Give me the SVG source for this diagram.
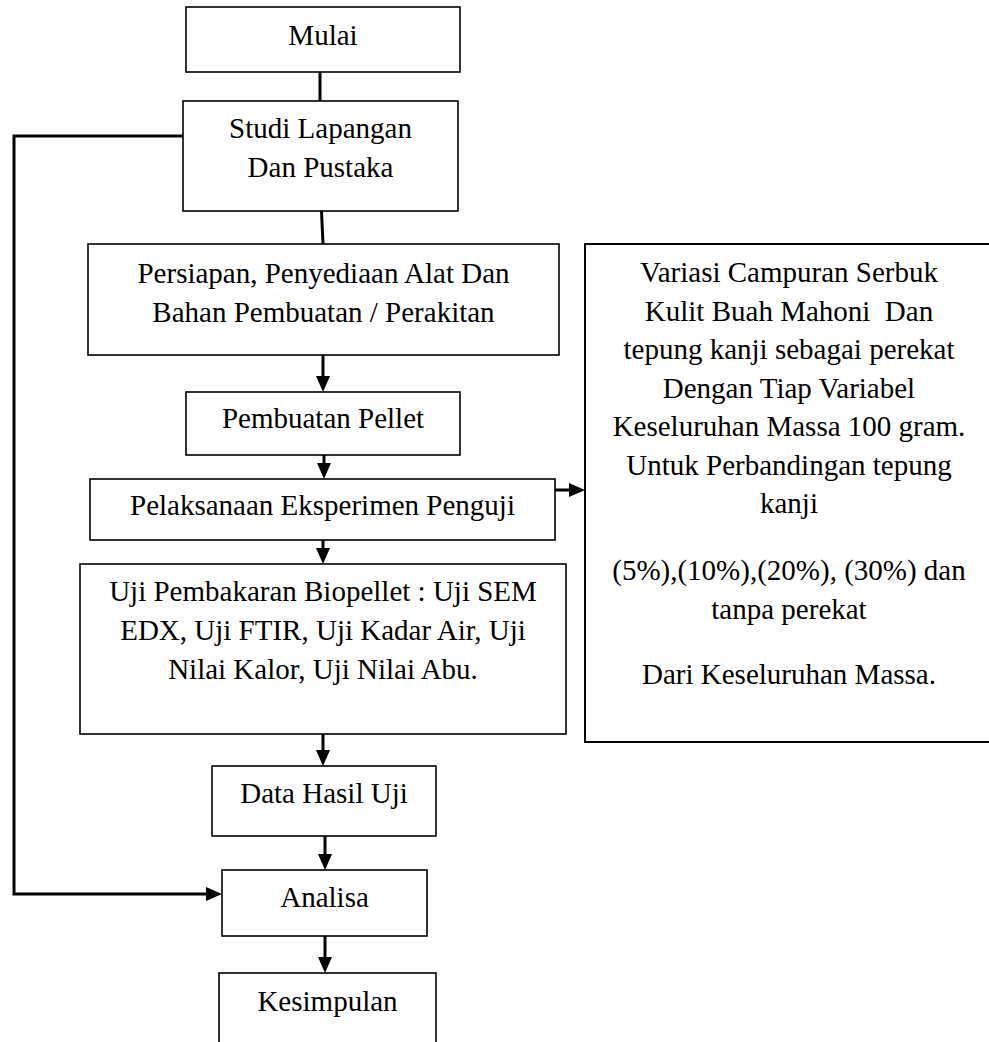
<svg xmlns="http://www.w3.org/2000/svg" width="989" height="1042" viewBox="0 0 989 1042">
<style>
  .box { fill: #ffffff; stroke: #000000; stroke-width: 1.6; }
  .t { font-family: "Liberation Serif", "Times New Roman", serif; font-size: 29px; fill: #000000; text-anchor: middle; }
  .c { fill: none; stroke: #000000; stroke-width: 3; }
</style>
<defs>
  <marker id="ah" viewBox="0 0 16 14" refX="0" refY="7" markerWidth="16" markerHeight="14" markerUnits="userSpaceOnUse" orient="auto">
    <path d="M0,0 L16,7 L0,14 Z" fill="#000000"/>
  </marker>
</defs>
<rect x="0" y="0" width="989" height="1042" fill="#ffffff"/>

<g id="connectors">
  <line class="c" x1="320" y1="72" x2="320" y2="101"/>
  <line class="c" x1="321.5" y1="211" x2="323" y2="244"/>
  <line class="c" x1="323" y1="355" x2="323" y2="376" marker-end="url(#ah)"/>
  <line class="c" x1="324" y1="455" x2="324" y2="463" marker-end="url(#ah)"/>
  <line class="c" x1="555" y1="490" x2="569" y2="490" marker-end="url(#ah)"/>
  <line class="c" x1="323" y1="540" x2="323" y2="548" marker-end="url(#ah)"/>
  <line class="c" x1="323" y1="734" x2="323" y2="750" marker-end="url(#ah)"/>
  <line class="c" x1="325" y1="836" x2="325" y2="854" marker-end="url(#ah)"/>
  <line class="c" x1="325" y1="936" x2="325" y2="957" marker-end="url(#ah)"/>
  <polyline class="c" points="183,136 14,136 14,894 206,894" marker-end="url(#ah)"/>
</g>

<g id="node-mulai">
  <rect class="box" x="186" y="7" width="274" height="65"/>
  <text class="t" x="323" y="45">Mulai</text>
</g>
<g id="node-studi">
  <rect class="box" x="183" y="101" width="275" height="110"/>
  <text class="t" x="320.5" y="138">Studi Lapangan</text>
  <text class="t" x="320.5" y="177">Dan Pustaka</text>
</g>
<g id="node-persiapan">
  <rect class="box" x="88" y="244" width="471" height="111"/>
  <text class="t" x="323.5" y="283">Persiapan, Penyediaan Alat Dan</text>
  <text class="t" x="323.5" y="322">Bahan Pembuatan / Perakitan</text>
</g>
<g id="node-pellet">
  <rect class="box" x="186" y="392" width="274" height="63"/>
  <text class="t" x="323" y="428">Pembuatan Pellet</text>
</g>
<g id="node-pelaksanaan">
  <rect class="box" x="90" y="479" width="465" height="61"/>
  <text class="t" x="322.5" y="515">Pelaksanaan Eksperimen Penguji</text>
</g>
<g id="node-uji">
  <rect class="box" x="80" y="564" width="486" height="170"/>
  <text class="t" x="323" y="601">Uji Pembakaran Biopellet : Uji SEM</text>
  <text class="t" x="323" y="640">EDX, Uji FTIR, Uji Kadar Air, Uji</text>
  <text class="t" x="323" y="679">Nilai Kalor, Uji Nilai Abu.</text>
</g>
<g id="node-variasi">
  <rect class="box" x="585" y="244" width="410" height="498" style="stroke-width:2"/>
  <text class="t" x="789" y="282">Variasi Campuran Serbuk</text>
  <text class="t" x="789" y="320.5" xml:space="preserve">Kulit Buah Mahoni  Dan</text>
  <text class="t" x="789" y="359">tepung kanji sebagai perekat</text>
  <text class="t" x="789" y="397.5">Dengan Tiap Variabel</text>
  <text class="t" x="789" y="436">Keseluruhan Massa 100 gram.</text>
  <text class="t" x="789" y="474.5">Untuk Perbandingan tepung</text>
  <text class="t" x="789" y="513">kanji</text>
  <text class="t" x="789" y="580">(5%),(10%),(20%), (30%) dan</text>
  <text class="t" x="789" y="618.5">tanpa perekat</text>
  <text class="t" x="789" y="684">Dari Keseluruhan Massa.</text>
</g>
<g id="node-data">
  <rect class="box" x="212" y="766" width="224" height="70"/>
  <text class="t" x="324" y="803">Data Hasil Uji</text>
</g>
<g id="node-analisa">
  <rect class="box" x="222" y="870" width="205" height="66"/>
  <text class="t" x="324.5" y="907">Analisa</text>
</g>
<g id="node-kesimpulan">
  <rect class="box" x="219" y="973" width="217" height="90"/>
  <text class="t" x="327.5" y="1011">Kesimpulan</text>
</g>
</svg>
